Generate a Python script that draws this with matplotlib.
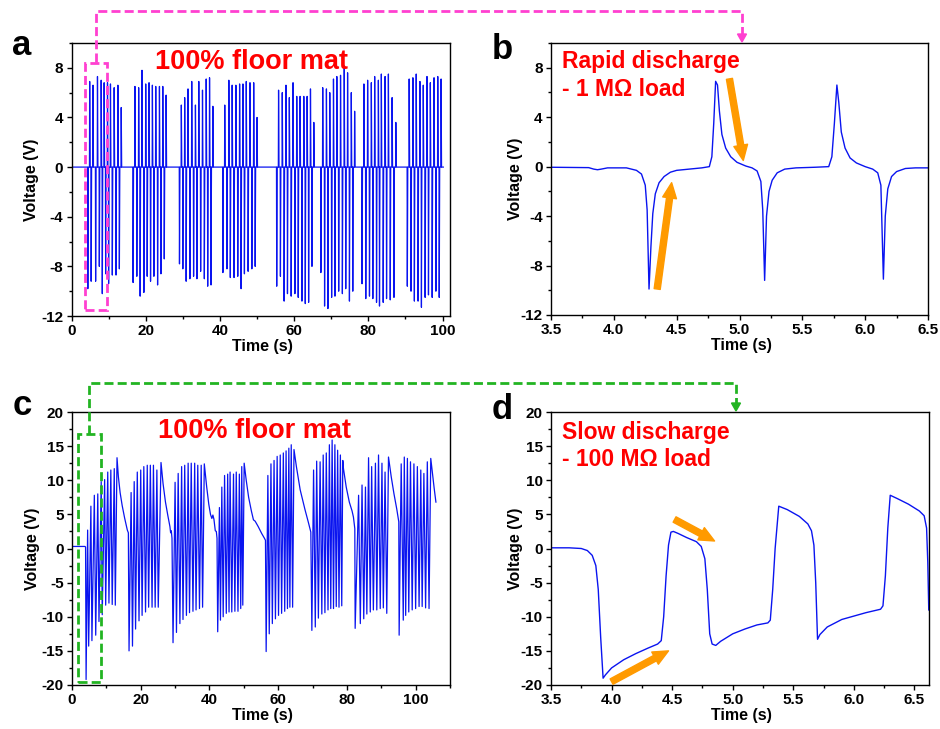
import matplotlib
matplotlib.use('Agg')
import matplotlib.pyplot as plt
from matplotlib.lines import Line2D
from matplotlib.patches import Rectangle, Polygon
from matplotlib.ticker import MultipleLocator

plt.rcParams['font.family'] = ['Liberation Sans', 'DejaVu Sans']
plt.rcParams['font.weight'] = 'bold'
plt.rcParams['axes.unicode_minus'] = False
plt.rcParams['lines.scale_dashes'] = False

# ---- panel a: 1 MOhm load, press (negative) / release (positive) peaks ----
a_press_t = [4.4, 5.3, 6.5, 7.5, 8.3, 9.2, 10.0, 11.0, 12.0, 12.9,
             16.6, 17.6, 18.5, 19.5, 20.4, 21.3, 22.2, 23.2, 24.1, 25.0,
             29.1, 30.0, 30.9, 31.9, 32.9, 33.8, 34.8, 35.8, 36.7, 37.6,
             40.8, 41.9, 42.8, 43.8, 44.8, 45.7, 46.6, 47.6, 48.6, 49.5,
             55.3, 56.3, 57.3, 58.2, 59.2, 60.2, 61.1, 62.1, 63.0, 63.9, 64.8,
             67.2, 68.2, 69.1, 70.1, 71.0, 72.0, 73.0, 73.9, 74.9, 75.8,
             78.3, 79.3, 80.3, 81.2, 82.2, 83.0, 84.0, 84.9, 85.9, 86.9,
             90.5, 91.5, 92.4, 93.4, 94.3, 95.3, 96.2, 97.2, 98.2, 99.1]
a_press_v = [-9.8, -9.2, -9.2, -8.0, -10.2, -8.6, -9.4, -8.7, -8.7, -8.2,
             -9.3, -8.8, -10.4, -10.1, -8.8, -9.2, -8.8, -9.5, -8.6, -7.4,
             -7.8, -8.2, -9.2, -9.0, -8.8, -9.0, -8.4, -9.0, -9.6, -9.5,
             -8.5, -8.2, -8.9, -8.9, -8.8, -9.8, -8.6, -8.4, -8.2, -8.0,
             -9.6, -8.8, -10.8, -10.2, -10.4, -10.2, -10.5, -10.8, -11.0, -10.9, -8.0,
             -8.5, -11.2, -11.4, -10.5, -10.4, -10.0, -10.2, -9.8, -10.8, -10.0,
             -9.4, -10.6, -10.4, -10.6, -10.9, -11.2, -10.9, -10.6, -10.7, -10.5,
             -9.6, -10.0, -10.8, -10.8, -11.3, -10.5, -10.3, -10.5, -10.0, -10.5]
a_release_v = [6.9, 6.6, 7.3, 7.0, 6.8, 6.8, 6.7, 6.4, 6.6, 4.8,
               6.5, 6.4, 7.8, 6.7, 6.8, 6.6, 6.5, 6.5, 6.5, 5.8,
               5.0, 5.6, 6.3, 6.9, 5.0, 6.9, 6.2, 7.1, 7.2, 4.9,
               5.0, 7.0, 6.6, 6.6, 6.7, 6.7, 6.9, 6.8, 6.8, 4.0,
               6.2, 6.0, 6.6, 5.6, 6.8, 5.7, 5.7, 5.7, 5.7, 6.3, 3.6,
               6.4, 6.3, 6.0, 7.1, 7.3, 7.4, 8.0, 7.6, 6.0, 4.5,
               6.7, 7.0, 6.8, 7.3, 7.0, 7.5, 7.3, 7.5, 5.6, 3.6,
               7.1, 7.2, 7.5, 6.9, 6.6, 7.3, 6.8, 7.2, 7.3, 7.1]
a_release_lag = 0.5
a_end = 100.2

# ---- panel b: zoom of one step, 1 MOhm ----
b_t = [3.50, 3.80, 3.84, 3.87, 3.90, 3.95, 4.10, 4.18, 4.22, 4.25, 4.265, 4.28,
       4.295, 4.31, 4.33, 4.36, 4.40, 4.45, 4.50, 4.60, 4.70, 4.76, 4.78, 4.795,
       4.81, 4.825, 4.84, 4.86, 4.89, 4.93, 4.98, 5.05, 5.10, 5.14, 5.17, 5.185,
       5.20, 5.215, 5.235, 5.26, 5.30, 5.36, 5.45, 5.60, 5.71, 5.735, 5.755, 5.775,
       5.79, 5.81, 5.84, 5.88, 5.93, 6.00, 6.06, 6.10, 6.125, 6.145, 6.16, 6.18,
       6.21, 6.25, 6.32, 6.40, 6.50]
b_v = [-0.05, -0.08, -0.2, -0.25, -0.2, -0.1, -0.1, -0.3, -0.6, -1.5, -3.5, -9.9,
       -6.5, -3.8, -2.2, -1.3, -0.8, -0.45, -0.3, -0.2, -0.1, 0.0, 0.8, 3.5,
       6.9, 6.6, 4.5, 2.6, 1.5, 0.8, 0.35, 0.05, -0.1, -0.35, -1.2, -3.5,
       -9.2, -4.0, -2.0, -1.1, -0.5, -0.2, -0.1, -0.05, 0.0, 0.8, 3.5, 6.6,
       5.2, 2.8, 1.5, 0.7, 0.3, 0.0, -0.2, -0.5, -1.5, -9.1, -4.0, -1.8,
       -0.8, -0.4, -0.15, -0.1, -0.1]

# ---- panel c: 100 MOhm load ----
c_press_t = [4.1, 4.85, 5.8, 6.9, 7.85, 8.8, 9.8, 10.75, 11.7, 12.6,
             16.6, 17.6, 18.5, 19.5, 20.4, 21.4, 22.3, 23.3, 24.2, 25.1,
             29.4, 30.4, 31.4, 32.3, 33.3, 34.2, 35.2, 36.1, 37.1, 38.0,
             42.4, 43.2, 44.0, 44.9, 45.7, 46.5, 47.4, 48.3, 49.1, 49.7,
             56.5, 57.4, 58.3, 59.2, 60.1, 61.0, 61.9, 62.7, 63.4, 64.2,
             69.8, 70.8, 71.7, 72.7, 73.6, 74.5, 75.3, 76.1, 76.9, 77.7, 78.5,
             82.4, 83.9, 84.9, 85.8, 86.8, 87.7, 88.7, 89.7, 90.6, 91.6,
             95.2, 96.4, 97.1, 98.0, 99.0, 100.0, 101.0, 101.9, 102.9, 103.9]
c_press_v = [-19.2, -14.3, -13.5, -12.7, -10.7, -9.7, -8.3, -8.0, -8.2, -8.3,
             -15.0, -14.3, -11.8, -10.6, -9.8, -9.3, -8.6, -8.6, -8.6, -8.6,
             -13.8, -12.3, -11.0, -10.4, -9.8, -9.4, -9.2, -9.0, -8.8, -8.6,
             -12.2, -10.5, -10.0, -9.5, -9.3, -9.3, -9.2, -9.2, -8.8, -8.3,
             -15.1, -12.5, -11.0, -10.3, -9.8, -9.5, -9.2, -8.8, -8.6, -8.6,
             -12.0, -11.5, -10.2, -9.6, -9.4, -9.0, -8.8, -8.8, -8.5, -8.6, -8.4,
             -11.7, -11.0, -10.3, -9.6, -9.3, -9.0, -9.0, -8.8, -8.7, -9.5,
             -12.7, -10.5, -9.8, -9.3, -9.0, -8.8, -8.5, -8.5, -8.7, -8.8]
c_release_t = [4.55, 5.5, 6.5, 7.5, 8.5, 9.5, 10.4, 11.3, 12.3, 13.1,
               17.2, 18.1, 19.0, 20.0, 20.9, 21.9, 22.8, 23.7, 24.7, 25.9,
               30.0, 30.9, 31.9, 32.8, 33.8, 34.7, 35.7, 36.6, 37.6, 38.5,
               42.9, 43.6, 44.4, 45.3, 46.0, 47.0, 47.8, 48.7, 49.4, 50.1,
               57.0, 57.9, 58.8, 59.7, 60.6, 61.5, 62.3, 63.1, 63.8, 64.6,
               70.3, 71.2, 72.2, 73.1, 74.0, 74.9, 75.7, 76.5, 77.3, 78.1, 78.8,
               83.4, 84.4, 85.4, 86.3, 87.2, 88.3, 89.2, 90.2, 91.1, 92.1,
               95.8, 96.7, 97.6, 98.5, 99.5, 100.5, 101.5, 102.4, 103.4, 104.4]
c_release_v = [2.7, 6.2, 7.8, 8.0, 9.8, 10.1, 11.2, 11.5, 11.7, 13.3,
               8.2, 9.8, 11.2, 11.5, 12.0, 12.2, 12.2, 12.2, 11.5, 12.6,
               9.7, 11.0, 12.0, 12.2, 12.5, 12.5, 12.5, 12.2, 12.2, 12.4,
               6.0, 9.0, 10.7, 10.9, 11.2, 10.9, 11.2, 10.9, 12.0, 12.5,
               10.7, 12.4, 12.9, 13.5, 13.7, 14.0, 14.3, 14.7, 15.2, 14.5,
               11.5, 12.8, 12.7, 13.7, 14.0, 15.2, 15.9, 15.2, 14.4, 13.7, 12.9,
               7.8, 9.3, 9.0, 13.3, 12.0, 12.5, 13.7, 12.5, 11.2, 13.4,
               12.4, 13.4, 13.2, 12.7, 12.4, 12.0, 11.5, 11.0, 12.7, 13.2]
# idle baseline and the slow decay between bursts
c_rest_t = [0.0, 3.8, 3.95,
            13.5, 14.0, 14.6, 15.3, 16.1, 16.4,
            26.5, 27.2, 27.9, 28.5, 28.7, 28.9, 29.1,
            39.2, 39.8, 40.3, 40.7, 41.0, 41.3, 41.7, 42.0, 42.2,
            50.7, 51.4, 52.2, 52.8, 53.3, 54.2, 55.2, 56.0, 56.3,
            65.3, 66.4, 67.8, 68.8, 69.5,
            79.0, 79.8, 80.7, 81.5, 81.9, 82.3,
            92.9, 93.7, 94.5, 95.1,
            104.9, 105.4, 105.9]
c_rest_v = [0.3, 0.3, 0.2,
            10.5, 8.2, 6.3, 4.5, 2.7, 2.3,
            9.5, 6.8, 4.8, 3.2, 2.3, 2.6, 1.5,
            9.0, 6.5, 5.0, 4.4, 4.9, 4.3, 2.6, 2.5, 1.5,
            10.0, 7.5, 5.5, 4.2, 4.0, 3.2, 2.2, 1.5, 1.2,
            12.0, 8.6, 5.7, 3.8, 2.4,
            11.7, 9.0, 6.8, 5.5, 4.6, 2.9,
            10.5, 8.0, 5.8, 3.9,
            11.0, 8.8, 6.8]

# ---- panel d: zoom of one step, 100 MOhm ----
d_t = [3.50, 3.65, 3.75, 3.80, 3.84, 3.87, 3.89, 3.91, 3.93, 3.95, 4.00, 4.10,
       4.20, 4.30, 4.38, 4.41, 4.43, 4.45, 4.47, 4.49, 4.51, 4.55, 4.62, 4.70,
       4.74, 4.77, 4.79, 4.81, 4.83, 4.86, 4.90, 5.00, 5.10, 5.20, 5.29, 5.31,
       5.33, 5.35, 5.38, 5.45, 5.55, 5.62, 5.65, 5.67, 5.685, 5.70, 5.72, 5.78,
       5.90, 6.00, 6.10, 6.22, 6.24, 6.26, 6.28, 6.30, 6.36, 6.45, 6.54, 6.58,
       6.60, 6.61, 6.618]
d_v = [0.1, 0.1, 0.0, -0.3, -1.0, -2.5, -6.0, -13.0, -19.0, -18.5, -17.5, -16.3,
       -15.4, -14.6, -14.0, -13.5, -10.0, -4.0, 0.5, 2.4, 2.5, 2.2, 1.6, 1.0,
       0.3, -1.5, -6.0, -12.5, -14.0, -14.2, -13.6, -12.5, -11.8, -11.2, -10.9, -10.5,
       -6.0, 0.0, 6.2, 5.7, 4.7, 3.6, 2.6, 0.5, -5.0, -13.3, -12.6, -11.5,
       -10.4, -9.9, -9.4, -8.9, -8.4, -4.0, 3.0, 7.8, 7.3, 6.5, 5.5, 4.8,
       3.0, -2.0, -9.0]

BLUE = '#0a14f0'
RED = '#ff0000'
ORANGE = '#ff9a00'
PINK = '#ff40d0'
GREEN = '#22b422'

W, H = 940, 729
fig = plt.figure(figsize=(W / 100, H / 100), dpi=100)


def fxy(x, y):
    # figure pixel (from top-left) -> figure fraction
    return x / W, 1 - y / H


def make_axes(l, t, r, b):
    return fig.add_axes([l / W, 1 - b / H, (r - l) / W, (b - t) / H])


def style(ax, xlim, ylim, xmaj, xmin, ymaj, ymin, ylab_x):
    ax.set_xlim(*xlim)
    ax.set_ylim(*ylim)
    ax.xaxis.set_major_locator(MultipleLocator(xmaj))
    ax.xaxis.set_minor_locator(MultipleLocator(xmin))
    ax.yaxis.set_major_locator(MultipleLocator(ymaj))
    ax.yaxis.set_minor_locator(MultipleLocator(ymin))
    ax.tick_params(which='both', direction='out', top=False, right=False,
                   width=1.0, labelsize=11, pad=2.5)
    ax.tick_params(which='major', length=3.5)
    ax.tick_params(which='minor', length=2)
    for s in ax.spines.values():
        s.set_linewidth(1.0)
    ax.set_xlabel('Time (s)', fontsize=11.5, fontweight='bold')
    ax.set_ylabel('Voltage (V)', fontsize=11.5, fontweight='bold')
    ax.xaxis.set_label_coords(0.505, -0.085)
    ax.yaxis.set_label_coords(ylab_x, 0.5)


ax_a = make_axes(71.5, 43, 450, 316)
ax_b = make_axes(551, 43, 928, 315)
ax_c = make_axes(72, 412, 450, 685)
ax_d = make_axes(551, 412, 929, 685)

# panel a: build the spike train from the peak lists
pts = [(0.0, 0.0), (a_end, 0.0)]
for t, v, p in zip(a_press_t, a_press_v, a_release_v):
    for tc, peak in ((t, v), (t + a_release_lag, p)):
        pts += [(tc - 0.06, 0.0), (tc, peak), (tc + 0.12, 0.0)]
pts.sort()
ax_a.plot([q[0] for q in pts], [q[1] for q in pts], color=BLUE, lw=0.9)
style(ax_a, (0, 102), (-12, 10), 20, 10, 4, 2, -0.085)

ax_b.plot(b_t, b_v, color=BLUE, lw=1.0)
style(ax_b, (3.5, 6.5), (-12, 10), 0.5, 0.25, 4, 2, -0.074)

pts = sorted(list(zip(c_press_t, c_press_v)) + list(zip(c_release_t, c_release_v))
             + list(zip(c_rest_t, c_rest_v)))
ax_c.plot([q[0] for q in pts], [q[1] for q in pts], color=BLUE, lw=0.9)
style(ax_c, (0, 110), (-20, 20), 20, 10, 5, 2.5, -0.085)

ax_d.plot(d_t, d_v, color=BLUE, lw=1.0)
style(ax_d, (3.5, 6.62), (-20, 20), 0.5, 0.25, 5, 2.5, -0.074)

# red annotations
big = dict(color=RED, fontsize=19.5, fontweight='bold', va='baseline', ha='left')
mid = dict(color=RED, fontsize=16.5, fontweight='bold', va='baseline', ha='left')
ax_a.text(0.2206, 0.905, '100% floor mat', transform=ax_a.transAxes, **big)
ax_c.text(0.2275, 0.906, '100% floor mat', transform=ax_c.transAxes, **big)
ax_b.text(0.029, 0.907, 'Rapid discharge', transform=ax_b.transAxes, **mid)
ax_b.text(0.029, 0.805, '- 1 M\u03a9 load', transform=ax_b.transAxes, **mid)
ax_d.text(0.029, 0.902, 'Slow discharge', transform=ax_d.transAxes, **mid)
ax_d.text(0.029, 0.803, '- 100 M\u03a9 load', transform=ax_d.transAxes, **mid)

# orange arrows
arrow = dict(arrowstyle='simple,head_length=0.55,head_width=0.5,tail_width=0.22',
             color=ORANGE, shrinkA=0, shrinkB=0, mutation_scale=20)
ax_b.annotate('', xy=(4.46, -1.3), xytext=(4.345, -9.9), arrowprops=arrow)
ax_b.annotate('', xy=(5.03, 0.5), xytext=(4.92, 7.1), arrowprops=arrow)
ax_d.annotate('', xy=(4.47, -15.0), xytext=(4.0, -19.5), arrowprops=arrow)
ax_d.annotate('', xy=(4.85, 1.1), xytext=(4.52, 4.25), arrowprops=arrow)

# zoom boxes and connectors
ax_a.add_patch(Rectangle((3.6, -11.5), 6.0, 19.9, fill=False, ec=PINK, lw=2.0,
                         ls=(0, (6.5, 3)), clip_on=False, zorder=5))
ax_c.add_patch(Rectangle((1.7, -19.5), 6.7, 36.3, fill=False, ec=GREEN, lw=2.0,
                         ls=(0, (6.5, 3)), clip_on=False, zorder=5))


def connector(x0, y0, ytop, x1, y1, color):
    xs, ys = zip(*[fxy(x0, y0), fxy(x0, ytop), fxy(x1, ytop), fxy(x1, y1 - 8)])
    fig.add_artist(Line2D(xs, ys, color=color, lw=2.0, ls=(0, (6.5, 3)),
                          transform=fig.transFigure))
    head = [fxy(x1 - 4.5, y1 - 9), fxy(x1 + 4.5, y1 - 9), fxy(x1, y1 - 1)]
    fig.add_artist(Polygon(head, closed=True, color=color, transform=fig.transFigure))


connector(96, 62, 11, 742, 43, PINK)
connector(89, 434, 383, 736, 412, GREEN)

# panel letters
for lab, x, y in (('a', 12, 55), ('b', 492, 59), ('c', 13, 415), ('d', 492, 419)):
    fig.text(*fxy(x, y), lab, fontsize=25, fontweight='bold', va='baseline', ha='left')

fig.savefig('out.png', dpi=100)
